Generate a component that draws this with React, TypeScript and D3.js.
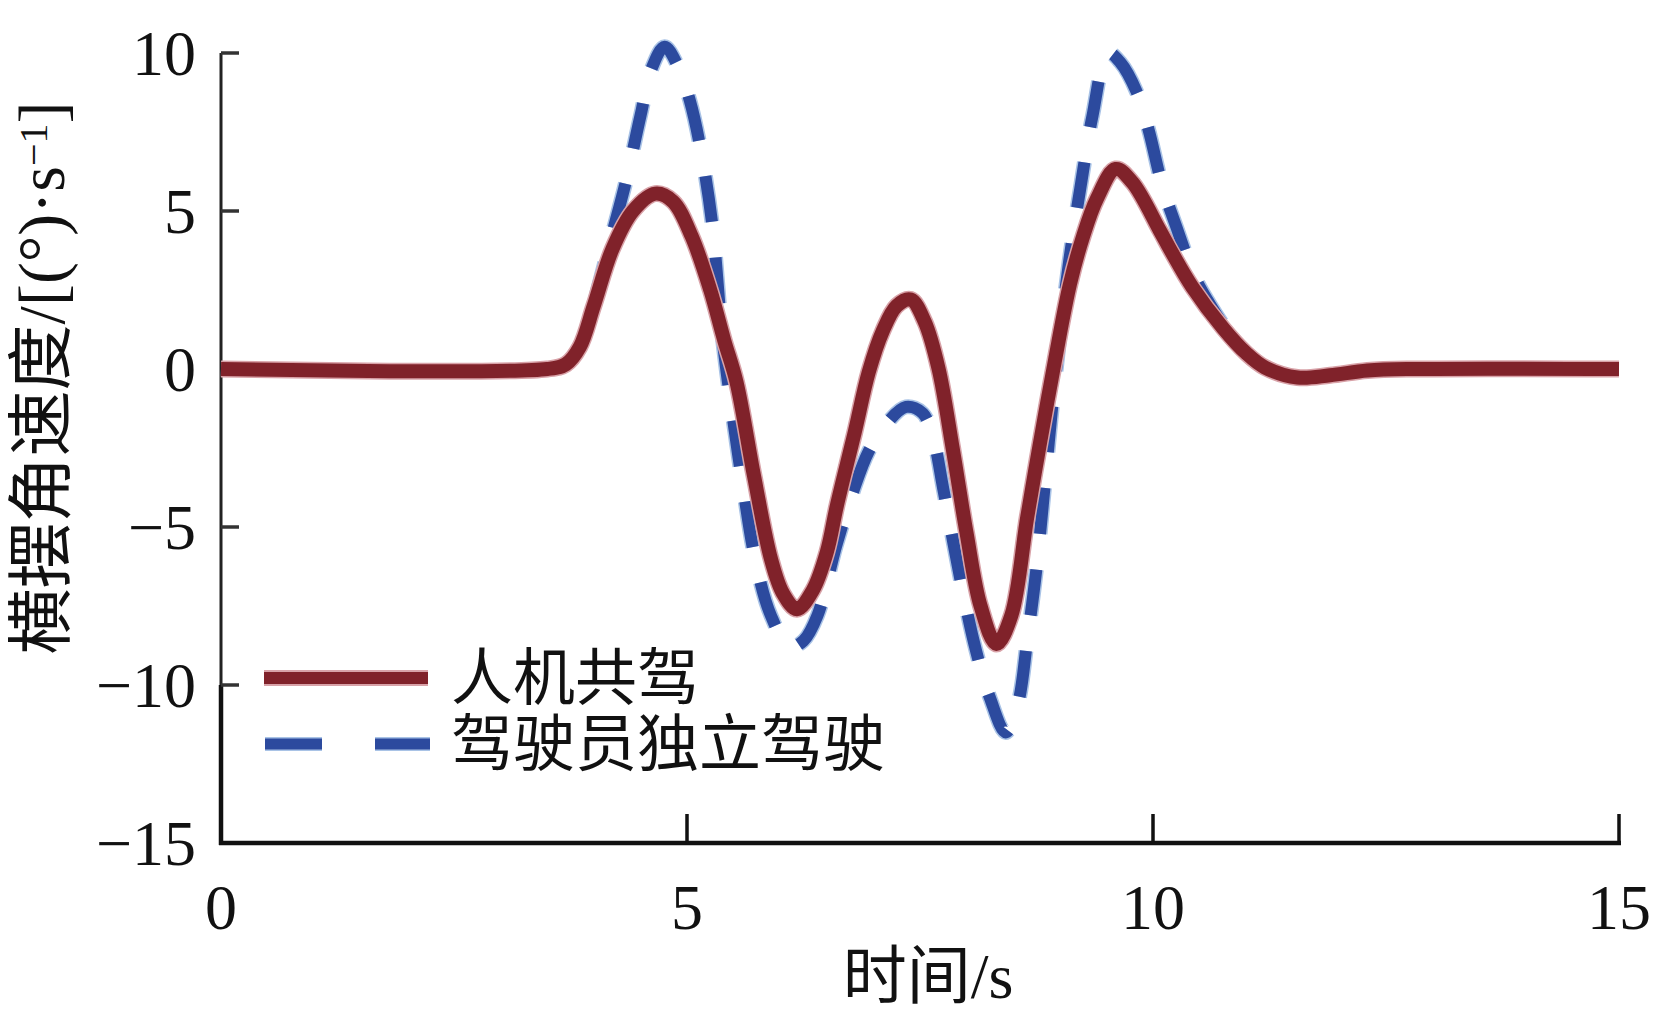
import React from "react";
import * as d3 from "d3";

// ---- data ----
const sharedT = [0, 3.5, 3.7, 3.85, 4.0, 4.2, 4.42, 4.66, 4.85, 5.05, 5.25, 5.4, 5.53, 5.72, 5.9, 6.03, 6.18, 6.35, 6.5, 6.61, 6.8, 6.95, 7.1, 7.25, 7.4, 7.55, 7.7, 7.85, 8.0, 8.15, 8.32, 8.48, 8.65, 8.79, 8.95, 9.11, 9.25, 9.4, 9.6, 9.78, 10.07, 10.2, 10.42, 10.75, 11.0, 11.2, 11.55, 11.9, 12.3, 12.8, 15];
const sharedV = [0, 0, 0.15, 0.7, 2.0, 3.8, 5.0, 5.55, 5.3, 4.2, 2.5, 0.9, -0.4, -3.4, -6.0, -7.1, -7.6, -7.0, -5.8, -4.3, -2.0, -0.1, 1.2, 2.0, 2.2, 1.5, 0.0, -2.5, -5.2, -7.5, -8.7, -7.8, -4.7, -2.3, 0.3, 2.7, 4.2, 5.4, 6.33, 5.9, 4.4, 3.7, 2.6, 1.3, 0.5, 0.05, -0.27, -0.2, -0.05, 0, 0];

const driverT = [0, 3.5, 3.7, 3.9, 4.05, 4.2, 4.35, 4.5, 4.62, 4.76, 4.9, 5.03, 5.15, 5.27, 5.38, 5.49, 5.6, 5.73, 5.9, 6.1, 6.25, 6.4, 6.6, 6.78, 6.95, 7.15, 7.35, 7.53, 7.65, 7.75, 7.95, 8.1, 8.25, 8.42, 8.55, 8.65, 8.75, 8.85, 8.95, 9.1, 9.23, 9.35, 9.52, 9.65, 9.82, 9.95, 10.1, 10.25, 10.45, 10.6, 10.8, 11.0, 11.2, 11.55, 11.9, 12.3, 12.8, 15];
const driverV = [0, 0, 0.15, 1.0, 2.6, 4.3, 6.0, 8.0, 9.5, 10.2, 9.6, 8.5, 6.9, 4.6, 1.0, -1.5, -3.7, -6.0, -7.8, -8.8, -8.6, -7.8, -5.6, -3.9, -2.6, -1.7, -1.2, -1.4, -2.3, -3.8, -6.9, -8.9, -10.4, -11.5, -10.6, -8.6, -6.3, -3.3, -0.3, 3.4, 5.9, 8.0, 10.0, 9.7, 8.8, 7.6, 5.8, 4.5, 2.9, 2.1, 1.2, 0.5, 0.05, -0.27, -0.2, -0.05, 0, 0];

const xTicks = [0, 5, 10, 15];
const yTicks = [10, 5, 0, -5, -10, -15];
const seriesNames = ["人机共驾", "驾驶员独立驾驶"];

const W = 1654;
const H = 1017;

export default function App() {
  const x = d3.scaleLinear().domain([0, 15]).range([221, 1619]);
  const y = d3.scaleLinear().domain([-15, 10]).range([843, 53]);
  const line = d3
    .line<[number, number]>()
    .x((d) => x(d[0]))
    .y((d) => y(d[1]))
    .curve(d3.curveCatmullRom.alpha(0.5));

  const shared: [number, number][] = sharedT.map((t, i) => [t, sharedV[i]]);
  const driver: [number, number][] = driverT.map((t, i) => [t, driverV[i]]);

  const red = "#80222a";
  const redHalo = "#d8a2a8";
  const blue = "#2c4a9e";
  const blueHalo = "#a9c3e6";
  const serif = "'Liberation Serif', 'Times New Roman', serif";
  const cjk = "'Liberation Serif', 'Noto Sans CJK SC', serif";

  const fmt = (v: number) => (v < 0 ? "\u2212" + Math.abs(v) : String(v));

  return (
    <svg
      width={W}
      height={H}
      style={{ position: "absolute", left: 0, top: 0, background: "#fff" }}
    >
      <rect x={0} y={0} width={W} height={H} fill="#fff" />
      {/* axes */}
      <line x1={x(0)} x2={x(0)} y1={y(10)} y2={y(-10)} stroke="#222" strokeWidth={3} />
      <line x1={x(0)} x2={x(0)} y1={y(-10)} y2={y(-15) + 2} stroke="#111" strokeWidth={4.5} />
      <line x1={x(0) - 2} x2={x(15) + 2} y1={y(-15)} y2={y(-15)} stroke="#111" strokeWidth={4.5} />
      {yTicks
        .filter((v) => v !== -15)
        .map((v) => (
          <line key={"yt" + v} x1={x(0)} x2={x(0) + 18} y1={y(v)} y2={y(v)} stroke="#333" strokeWidth={3.5} />
        ))}
      {xTicks
        .filter((v) => v !== 0)
        .map((v) => (
          <line key={"xt" + v} x1={x(v)} x2={x(v)} y1={y(-15)} y2={y(-15) - 29} stroke="#111" strokeWidth={3.5} />
        ))}
      {yTicks.map((v) => (
        <text
          key={"yl" + v}
          x={196}
          y={y(v) + 22}
          textAnchor="end"
          fontFamily={serif}
          fontSize={64}
          fill="#111"
        >
          {fmt(v)}
        </text>
      ))}
      {xTicks.map((v) => (
        <text
          key={"xl" + v}
          x={x(v)}
          y={929}
          textAnchor="middle"
          fontFamily={serif}
          fontSize={64}
          fill="#111"
        >
          {fmt(v)}
        </text>
      ))}
      {/* axis titles */}
      <text x={928} y={998} textAnchor="middle" fontFamily={cjk} fontSize={64} fill="#111">
        时间/s
      </text>
      <text
        transform={`translate(64,378) rotate(-90)`}
        textAnchor="middle"
        fontFamily={cjk}
        fontSize={66}
        fill="#111"
      >
        横摆角速度/[(°)·s
        <tspan fontSize={40} dy={-17}>
          {"\u2212"}1
        </tspan>
        <tspan dy={17}>]</tspan>
      </text>

      {/* curves */}
      <path d={line(driver) || ""} fill="none" stroke={blueHalo} strokeWidth={15} strokeDasharray="46 36" />
      <path d={line(driver) || ""} fill="none" stroke={blue} strokeWidth={12} strokeDasharray="46 36" />
      <path d={line(shared) || ""} fill="none" stroke={redHalo} strokeWidth={17} />
      <path d={line(shared) || ""} fill="none" stroke={red} strokeWidth={14} />

      {/* legend */}
      <line x1={264} x2={428} y1={678} y2={678} stroke={redHalo} strokeWidth={16} />
      <line x1={264} x2={428} y1={678} y2={678} stroke={red} strokeWidth={12} />
      <line x1={265} x2={430} y1={744} y2={744} stroke={blueHalo} strokeWidth={14} strokeDasharray="57 53" />
      <line x1={265} x2={430} y1={744} y2={744} stroke={blue} strokeWidth={11} strokeDasharray="57 53" />
      <text x={451} y={700} fontFamily={cjk} fontSize={62} fill="#111">
        {seriesNames[0]}
      </text>
      <text x={451} y={766} fontFamily={cjk} fontSize={62} fill="#111">
        {seriesNames[1]}
      </text>
    </svg>
  );
}
